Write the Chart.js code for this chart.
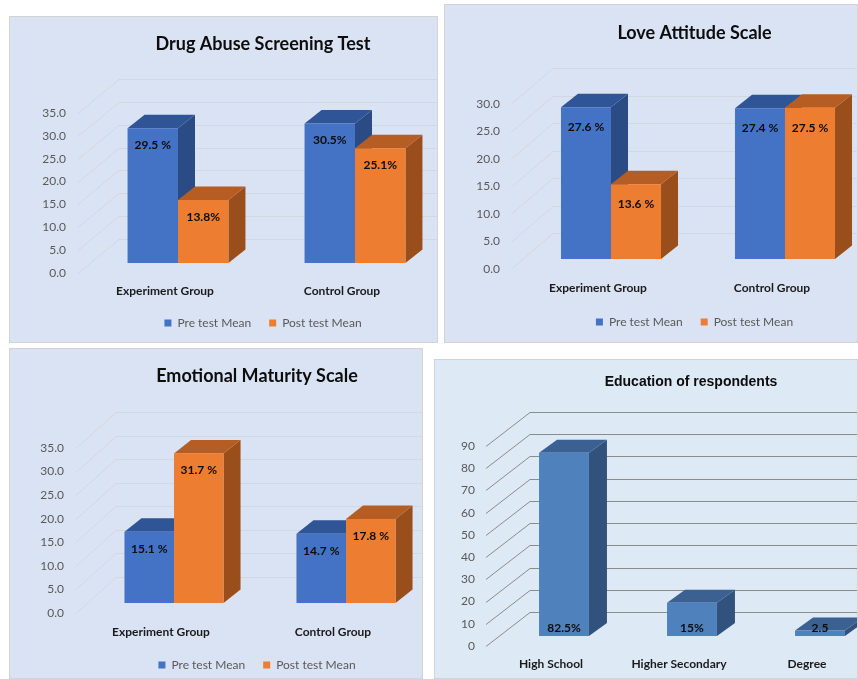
<!DOCTYPE html>
<html>
<head>
<meta charset="utf-8">
<script src="https://cdn.jsdelivr.net/npm/chart.js@4/dist/chart.umd.min.js"></script>
<style>
  body { margin: 0; background: #fff; width: 858px; height: 679px; position: relative; overflow: hidden; }
  .panel { position: absolute; overflow: hidden; background: #dae3f3; box-sizing: border-box; border: 1px solid #d3d3d3; }
  .panel canvas { position: absolute; left: 0; top: 0; }
</style>
</head>
<body>
<div class="panel" style="left:9px; top:16px; width:429px; height:327px;"><canvas id="drug" width="506" height="327"></canvas></div>
<div class="panel" style="left:444px; top:4px; width:414px; height:339px;"><canvas id="love" width="499" height="339"></canvas></div>
<div class="panel" style="left:9px; top:348px; width:414px; height:331px;"><canvas id="emo" width="494" height="332"></canvas></div>
<div class="panel" style="left:434px; top:359px; width:424px; height:320px; background:#dde9f5;"><canvas id="edu" width="512" height="320"></canvas></div>
<script>
const groupLabels = ['Experiment Group', 'Control Group'];
const seriesNames = ['Pre test Mean', 'Post test Mean'];

const drugPre = [29.5, 30.5];
const drugPost = [13.8, 25.1];
const drugPreText = ['29.5 %', '30.5%'];
const drugPostText = ['13.8%', '25.1%'];
const drugTicks = [0, 5, 10, 15, 20, 25, 30, 35];

const lovePre = [27.6, 27.4];
const lovePost = [13.6, 27.5];
const lovePreText = ['27.6 %', '27.4 %'];
const lovePostText = ['13.6 %', '27.5 %'];
const loveTicks = [0, 5, 10, 15, 20, 25, 30];

const emoPre = [15.1, 14.7];
const emoPost = [31.7, 17.8];
const emoPreText = ['15.1 %', '14.7 %'];
const emoPostText = ['31.7 %', '17.8 %'];
const emoTicks = [0, 5, 10, 15, 20, 25, 30, 35];

const eduLabels = ['High School', 'Higher Secondary', 'Degree'];
const eduValues = [82.5, 15, 2.5];
const eduText = ['82.5%', '15%', '2.5'];
const eduTicks = [0, 10, 20, 30, 40, 50, 60, 70, 80, 90];

const BLUE = { front: '#4472c4', top: '#2f5597', side: '#2b4b85' };
const ORANGE = { front: '#ed7d31', top: '#b55d22', side: '#9a4e1b' };
const EDU = { front: '#4f81bd', top: '#3b6192', side: '#31527d' };

function poly(ctx, pts) {
    ctx.beginPath();
    ctx.moveTo(pts[0][0], pts[0][1]);
    for (let i = 1; i < pts.length; i++) ctx.lineTo(pts[i][0], pts[i][1]);
    ctx.closePath();
    ctx.fill();
}

// fake 3d: floor/back wall lines, then top and side faces under the front faces
const bar3d = {
    id: 'bar3d',
    beforeDatasetsDraw(chart, args, opts) {
        const ctx = chart.ctx;
        const yScale = chart.scales.y;
        const left = chart.chartArea.left;
        ctx.save();
        ctx.strokeStyle = opts.gridColor;
        ctx.lineWidth = 1;
        yScale.ticks.forEach(t => {
            const py = Math.round(yScale.getPixelForValue(t.value)) + 0.5;
            ctx.beginPath();
            ctx.moveTo(left + opts.front[0], py + opts.front[1]);
            ctx.lineTo(left + opts.back[0], py + opts.back[1]);
            ctx.lineTo(chart.width, py + opts.back[1]);
            ctx.stroke();
        });
        const [dx, dy] = opts.depth;
        chart.data.datasets.forEach((ds, i) => {
            chart.getDatasetMeta(i).data.forEach(bar => {
                const l = bar.x - bar.width / 2;
                const r = bar.x + bar.width / 2;
                const t = bar.y;
                const b = bar.base;
                ctx.fillStyle = ds.sideColor;
                poly(ctx, [[r, t], [r + dx, t - dy], [r + dx, b - dy], [r, b]]);
                ctx.fillStyle = ds.topColor;
                poly(ctx, [[l, t], [r, t], [r + dx, t - dy], [l + dx, t - dy]]);
            });
        });
        ctx.restore();
    },
    afterDatasetsDraw(chart, args, opts) {
        const ctx = chart.ctx;
        ctx.save();
        ctx.font = 'bold 12px Lato';
        ctx.fillStyle = '#0d0d0d';
        ctx.textAlign = 'center';
        ctx.textBaseline = 'middle';
        chart.data.datasets.forEach((ds, i) => {
            chart.getDatasetMeta(i).data.forEach((bar, j) => {
                const y = opts.labelAtBase ? bar.base + opts.labelDy : bar.y + opts.labelDy;
                ctx.fillText(ds.valueText[j], bar.x, y);
            });
        });
        ctx.restore();
    }
};

function makeChart(id, spec) {
    const canvas = document.getElementById(id);
    const titleLine = spec.titleSize * 1.2;
    const titleTop = spec.titleY - titleLine / 2;
    const ticks = spec.ticks;

    new Chart(canvas, {
        type: 'bar',
        data: {
            labels: spec.labels,
            datasets: spec.datasets.map(d => ({
                label: d.name,
                data: d.values,
                valueText: d.text,
                backgroundColor: d.color.front,
                topColor: d.color.top,
                sideColor: d.color.side,
                borderWidth: 0,
                barPercentage: 1,
                categoryPercentage: spec.catPct
            }))
        },
        options: {
            responsive: false,
            animation: false,
            layout: { padding: { left: 0, right: 0, top: 0, bottom: spec.padBottom } },
            scales: {
                x: {
                    grid: { display: false, drawTicks: false },
                    border: { display: false },
                    ticks: {
                        color: '#1a1a1a',
                        font: { family: 'Lato', size: 12, weight: 'bold' },
                        padding: spec.xLabelDy - 7.2,
                        labelOffset: -13,
                        maxRotation: 0,
                        autoSkip: false
                    },
                    afterFit: s => { s.height = spec.xHeight; }
                },
                y: {
                    min: ticks[0],
                    max: ticks[ticks.length - 1],
                    grid: { display: false, drawTicks: false },
                    border: { display: false },
                    afterBuildTicks: s => { s.ticks = ticks.map(v => ({ value: v })); },
                    ticks: {
                        color: '#595959',
                        font: { family: 'Lato', size: 12 },
                        padding: spec.yPad,
                        labelOffset: 10,
                        callback: v => spec.decimals ? v.toFixed(1) : String(v)
                    },
                    afterFit: s => { s.width = spec.yWidth; }
                },
                spare: {
                    type: 'linear',
                    position: 'right',
                    display: true,
                    grid: { display: false, drawTicks: false },
                    border: { display: false },
                    ticks: { display: false },
                    afterFit: s => { s.width = spec.rightWidth; }
                }
            },
            plugins: {
                title: {
                    display: true,
                    text: spec.title,
                    color: '#0d0d0d',
                    font: { family: spec.titleFamily, size: spec.titleSize, weight: 'bold' },
                    padding: { top: titleTop, bottom: spec.chartTop - titleTop - titleLine }
                },
                legend: {
                    display: spec.legend,
                    position: 'bottom',
                    labels: {
                        color: '#595959',
                        font: { family: 'Lato', size: 12 },
                        boxWidth: 7,
                        boxHeight: 7,
                        padding: 18
                    }
                },
                tooltip: { enabled: false },
                bar3d: {
                    gridColor: spec.gridColor,
                    front: spec.front,
                    back: spec.back,
                    depth: spec.depth,
                    labelAtBase: spec.labelAtBase,
                    labelDy: spec.labelDy
                }
            }
        },
        plugins: [bar3d]
    });
}

makeChart('drug', {
    title: 'Drug Abuse Screening Test', titleFamily: 'Lato', titleSize: 18, titleY: 27, chartTop: 86,
    labels: groupLabels, ticks: drugTicks, decimals: true,
    datasets: [
        { name: seriesNames[0], values: drugPre, text: drugPreText, color: BLUE },
        { name: seriesNames[1], values: drugPost, text: drugPostText, color: ORANGE }
    ],
    yWidth: 79.5, yPad: 23.5, rightWidth: 72.5, xHeight: 36, xLabelDy: 28, padBottom: 5,
    catPct: 0.57, legend: true, gridColor: '#d3d7df',
    front: [-11.5, 10], back: [29.5, -24], depth: [17, 13.5], labelAtBase: false, labelDy: 17
});

makeChart('love', {
    title: 'Love Attitude Scale', titleFamily: 'Lato', titleSize: 18, titleY: 28, chartTop: 89,
    labels: groupLabels, ticks: loveTicks, decimals: true,
    datasets: [
        { name: seriesNames[0], values: lovePre, text: lovePreText, color: BLUE },
        { name: seriesNames[1], values: lovePost, text: lovePostText, color: ORANGE }
    ],
    yWidth: 79, yPad: 24, rightWidth: 72, xHeight: 39, xLabelDy: 29, padBottom: 6,
    catPct: 0.575, legend: true, gridColor: '#d3d7df',
    front: [-13, 10], back: [29, -26], depth: [17, 13.5], labelAtBase: false, labelDy: 20
});

makeChart('emo', {
    title: 'Emotional Maturity Scale', titleFamily: 'Lato', titleSize: 18, titleY: 27, chartTop: 89,
    labels: groupLabels, ticks: emoTicks, decimals: true,
    datasets: [
        { name: seriesNames[0], values: emoPre, text: emoPreText, color: BLUE },
        { name: seriesNames[1], values: emoPost, text: emoPostText, color: ORANGE }
    ],
    yWidth: 78, yPad: 24, rightWidth: 72, xHeight: 38, xLabelDy: 29, padBottom: 0,
    catPct: 0.576, legend: true, gridColor: '#d3d7df',
    front: [-12, 10], back: [28, -26], depth: [17, 13.5], labelAtBase: false, labelDy: 17
});

makeChart('edu', {
    title: 'Education of respondents', titleFamily: 'Liberation Sans', titleSize: 14, titleY: 22, chartTop: 76,
    labels: eduLabels, ticks: eduTicks, decimals: false,
    datasets: [
        { name: 'Education', values: eduValues, text: eduText, color: EDU }
    ],
    yWidth: 65, yPad: 25, rightWidth: 63, xHeight: 44, xLabelDy: 28, padBottom: 0,
    catPct: 0.39, legend: false, gridColor: '#8c8c8c',
    front: [-14, 10], back: [30, -24], depth: [18, 13], labelAtBase: true, labelDy: -8
});
</script>
</body>
</html>
